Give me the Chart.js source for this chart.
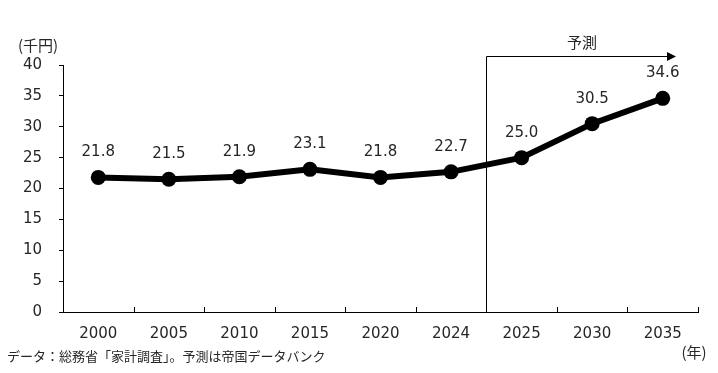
<!DOCTYPE html>
<html>
<head>
<meta charset="utf-8">
<script src="https://cdn.jsdelivr.net/npm/chart.js@4.4.1/dist/chart.umd.min.js"></script>
<style>
  html, body { margin: 0; padding: 0; background: #fff; }
  #wrap { width: 718px; height: 373px; position: relative; }
</style>
</head>
<body>
<div id="wrap"><canvas id="lineChart" width="718" height="373"></canvas></div>
<script>
// data
const years = ['2000', '2005', '2010', '2015', '2020', '2024', '2025', '2030', '2035'];
const spending = [21.8, 21.5, 21.9, 23.1, 21.8, 22.7, 25.0, 30.5, 34.6];
const yTicks = [0, 5, 10, 15, 20, 25, 30, 35, 40];
const forecastFrom = 6; // index of first forecast year (2025)

const numFont = '"DejaVu Sans", Verdana, sans-serif';
const jpFont = '"Noto Sans CJK JP", sans-serif';
const textColor = '#262626';

// labels, forecast arrow, unit texts
const extrasPlugin = {
    id: 'extras',
    afterDraw: function(chart) {
        const ctx = chart.ctx;
        const xs = chart.scales['x'];
        const area = chart.chartArea;
        const meta = chart.getDatasetMeta(0);

        ctx.save();

        // inward ticks on the x axis at category boundaries
        ctx.strokeStyle = '#000';
        ctx.lineWidth = 1;
        const step = xs.getPixelForValue(1) - xs.getPixelForValue(0);
        for (let i = 1; i <= years.length; i++) {
            const x = Math.round(xs.getPixelForValue(i - 1) + step / 2) + 0.5;
            ctx.beginPath();
            ctx.moveTo(x, area.bottom);
            ctx.lineTo(x, area.bottom - 5);
            ctx.stroke();
        }

        // forecast bracket + arrow
        const fx = Math.round((xs.getPixelForValue(forecastFrom - 1) + xs.getPixelForValue(forecastFrom)) / 2) + 0.5;
        const fy = 56.5;
        const tipX = area.right - 22;
        ctx.beginPath();
        ctx.moveTo(fx, area.bottom);
        ctx.lineTo(fx, fy);
        ctx.lineTo(tipX - 8, fy);
        ctx.stroke();
        ctx.fillStyle = '#000';
        ctx.beginPath();
        ctx.moveTo(tipX, fy);
        ctx.lineTo(tipX - 9, fy - 4.5);
        ctx.lineTo(tipX - 9, fy + 4.5);
        ctx.closePath();
        ctx.fill();

        ctx.fillStyle = textColor;
        ctx.textAlign = 'center';
        ctx.textBaseline = 'middle';
        ctx.font = '15px ' + jpFont;
        ctx.fillText('予測', 582, 42);

        // value labels
        ctx.font = '15px ' + numFont;
        meta.data.forEach(function(pt, i) {
            ctx.fillText(spending[i].toFixed(1), pt.x, pt.y - 25);
        });

        // unit labels and source
        ctx.font = '15px ' + jpFont;
        ctx.fillText('(千円)', 38, 45);
        ctx.fillText('(年)', 694, 352);
        ctx.textAlign = 'left';
        ctx.font = '13px ' + jpFont;
        ctx.fillText('データ：総務省「家計調査」。予測は帝国データバンク', 7, 356);

        ctx.restore();
    }
};

const lineChart = new Chart(document.getElementById('lineChart'), {
    type: 'line',
    data: {
        labels: years,
        datasets: [{
            data: spending,
            borderColor: '#000',
            backgroundColor: '#000',
            borderWidth: 6,
            pointRadius: 7.5,
            pointBackgroundColor: '#000',
            pointBorderWidth: 0,
            tension: 0,
            fill: false
        }]
    },
    options: {
        responsive: false,
        animation: false,
        layout: {
            padding: { top: 65, right: 20, bottom: 0, left: 0 }
        },
        plugins: {
            legend: { display: false },
            tooltip: { enabled: false }
        },
        scales: {
            x: {
                offset: true,
                grid: { display: false },
                border: { display: true, color: '#000', width: 1 },
                ticks: {
                    color: textColor,
                    font: { family: numFont, size: 15 },
                    padding: 5,
                    maxRotation: 0
                },
                afterFit: function(scale) { scale.height = 61; }
            },
            y: {
                min: 0,
                max: 40,
                afterBuildTicks: function(scale) {
                    scale.ticks = yTicks.map(function(v) { return { value: v }; });
                },
                grid: {
                    drawOnChartArea: false,
                    drawTicks: true,
                    tickLength: 4,
                    color: '#000'
                },
                border: { display: true, color: '#000', width: 1 },
                ticks: {
                    color: textColor,
                    font: { family: numFont, size: 15 },
                    padding: 17
                },
                afterFit: function(scale) { scale.width = 63; }
            }
        }
    },
    plugins: [extrasPlugin]
});
</script>
</body>
</html>
